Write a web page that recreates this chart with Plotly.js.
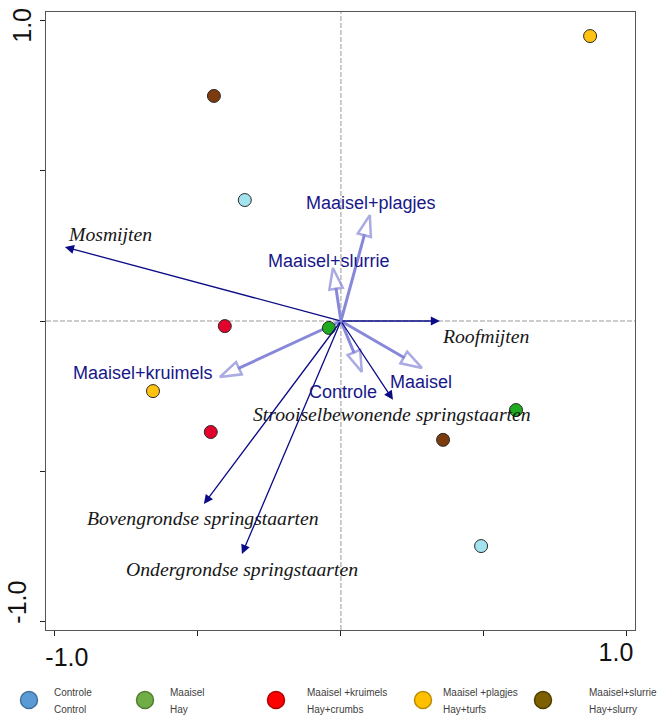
<!DOCTYPE html>
<html>
<head>
<meta charset="utf-8">
<script src="https://cdn.plot.ly/plotly-3.0.1.min.js"></script>
<style>html,body{margin:0;padding:0;background:#fff;}#chart{width:657px;height:718px;}</style>
</head>
<body>
<div id="chart"></div>
<script>
// ---------- DATA ----------
const groupNames   = ['Controle', 'Maaisel', 'Maaisel+kruimels', 'Maaisel+plagjes', 'Maaisel+slurrie'];
const controleX    = [-0.336, 0.490];
const controleY    = [0.402, -0.748];
const maaiselX     = [-0.042, 0.612];
const maaiselY     = [-0.023, -0.296];
const kruimelsX    = [-0.406, -0.455];
const kruimelsY    = [-0.017, -0.369];
const plagjesX     = [0.871, -0.657];
const plagjesY     = [0.947, -0.233];
const slurrieX     = [-0.444, 0.357];
const slurrieY     = [0.748, -0.395];

// species (response variables) arrows
const speciesNames = ['Mosmijten', 'Roofmijten', 'Strooiselbewonende springstaarten', 'Bovengrondse springstaarten', 'Ondergrondse springstaarten'];
const speciesX     = [-0.965, 0.346, 0.182, -0.479, -0.346];
const speciesY     = [0.246, 0.000, -0.262, -0.608, -0.774];

// treatment (explanatory) arrows
const treatNames   = ['Maaisel+plagjes', 'Maaisel+slurrie', 'Maaisel+kruimels', 'Controle', 'Maaisel'];
const treatX       = [0.101, -0.028, -0.423, 0.073, 0.283];
const treatY       = [0.352, 0.176, -0.186, -0.169, -0.156];

// axis ticks
const tickValues   = [-1, -0.5, 0, 0.5, 1];
const lowLabels    = ['-1.0', '', '', '', ''];
const highValue    = [1];
const highLabel    = ['1.0'];

// legend text
const legendDutch   = ['Controle', 'Maaisel', 'Maaisel +kruimels', 'Maaisel +plagjes', 'Maaisel+slurrie'];
const legendEnglish = ['Control', 'Hay', 'Hay+crumbs', 'Hay+turfs', 'Hay+slurry'];

// ---------- STYLES / PLACEMENT ----------
const pointColors  = ['#a3e3ef', '#1faa1f', '#e3022b', '#ffc20e', '#7b3b0d'];
const legendColors = ['#5b9bd5', '#70ad47', '#ff0000', '#ffc000', '#7f6000'];
const legendEdge   = ['#41719c', '#507e32', '#b00000', '#bc8c00', '#4f3c00'];
const legendMarkX  = [29, 145, 276, 423, 543];
const legendTextX  = [52, 168, 305, 441, 587];
// label placement relative to arrow tips (pixels)
const speciesLab   = [
  {xa: 'left',   dx: 1,  dy: 13},
  {xa: 'left',   dx: 0,  dy: -15},
  {xa: 'center', dx: -1, dy: -14},
  {xa: 'center', dx: -1, dy: -14},
  {xa: 'center', dx: 0,  dy: -15}
];
const treatLab     = [
  {xa: 'center', dx: 1,   dy: 12},
  {xa: 'center', dx: -4,  dy: 7},
  {xa: 'right',  dx: -5,  dy: 4},
  {xa: 'center', dx: -19, dy: -20},
  {xa: 'center', dx: -1,  dy: -14}
];

const NAVY = '#0b0b86';
const PURPLE = '#8888da';
const LABEL_NAVY = '#17178a';

const groupX = [controleX, maaiselX, kruimelsX, plagjesX, slurrieX];
const groupY = [controleY, maaiselY, kruimelsY, plagjesY, slurrieY];

const traces = [];

// treatment arrows (thick light purple, hollow heads)
treatNames.forEach((n, i) => {
  traces.push({
    type: 'scatter', mode: 'lines+markers',
    x: [0, treatX[i]], y: [0, treatY[i]],
    line: {color: PURPLE, width: 3},
    marker: {
      symbol: 'arrow', size: [0, 22], color: '#ffffff',
      angleref: 'previous',
      line: {color: PURPLE, width: [0, 2.5]}
    },
    showlegend: false, hoverinfo: 'skip', xaxis: 'x', yaxis: 'y'
  });
});

// sample points
groupNames.forEach((n, i) => {
  traces.push({
    type: 'scatter', mode: 'markers', name: n,
    x: groupX[i], y: groupY[i],
    marker: {size: 13, color: pointColors[i], line: {color: '#2a2a2a', width: 1}},
    showlegend: false, xaxis: 'x', yaxis: 'y'
  });
});

// legend markers (drawn on a helper axis below the plot)
traces.push({
  type: 'scatter', mode: 'markers',
  x: legendMarkX, y: groupNames.map(() => 700),
  marker: {size: 17, color: legendColors, line: {color: legendEdge, width: 1.5}},
  showlegend: false, hoverinfo: 'skip', xaxis: 'x2', yaxis: 'y2'
});

// empty trace so the overlay label axes get drawn
traces.push({
  type: 'scatter', mode: 'markers', x: [null], y: [null],
  showlegend: false, hoverinfo: 'skip', xaxis: 'x3', yaxis: 'y3'
});

const annotations = [];

// species arrows
speciesNames.forEach((n, i) => {
  annotations.push({
    x: speciesX[i], y: speciesY[i], ax: 0, ay: 0,
    xref: 'x', yref: 'y', axref: 'x', ayref: 'y',
    text: '', showarrow: true,
    arrowhead: 2, arrowsize: 1.4, arrowwidth: 1.3, arrowcolor: NAVY,
    standoff: 0, startstandoff: 0
  });
  annotations.push({
    x: speciesX[i], y: speciesY[i], xref: 'x', yref: 'y',
    text: n, showarrow: false,
    xanchor: speciesLab[i].xa, yanchor: 'middle',
    xshift: speciesLab[i].dx, yshift: speciesLab[i].dy,
    font: {family: 'Liberation Serif, Times New Roman, serif', style: 'italic', size: 19.7, color: '#161616'}
  });
});

// treatment labels
treatNames.forEach((n, i) => {
  annotations.push({
    x: treatX[i], y: treatY[i], xref: 'x', yref: 'y',
    text: n, showarrow: false,
    xanchor: treatLab[i].xa, yanchor: 'middle',
    xshift: treatLab[i].dx, yshift: treatLab[i].dy,
    font: {family: 'Liberation Sans, Arial, sans-serif', size: 18, color: LABEL_NAVY}
  });
});

// legend text
groupNames.forEach((n, i) => {
  annotations.push({
    x: legendTextX[i], y: 692, xref: 'x2', yref: 'y2', text: legendDutch[i],
    showarrow: false, xanchor: 'left', yanchor: 'middle',
    font: {family: 'Liberation Sans, Arial, sans-serif', size: 10, color: '#404040'}
  });
  annotations.push({
    x: legendTextX[i], y: 709, xref: 'x2', yref: 'y2', text: legendEnglish[i],
    showarrow: false, xanchor: 'left', yanchor: 'middle',
    font: {family: 'Liberation Sans, Arial, sans-serif', size: 10, color: '#404040'}
  });
});

const axisFont = {family: 'Liberation Sans, Arial, sans-serif', size: 25, color: '#111'};
const XRANGE = [-1.031, 1.028];
const YRANGE = [-1.027, 1.027];

const layout = {
  width: 657, height: 718,
  margin: {l: 0, r: 0, t: 0, b: 0, pad: 0},
  paper_bgcolor: '#ffffff', plot_bgcolor: '#ffffff',
  showlegend: false,
  xaxis: {
    domain: [46 / 657, 635 / 657], range: XRANGE,
    showgrid: false, zeroline: false,
    showline: true, mirror: true, linecolor: '#555', linewidth: 1,
    ticks: 'outside', ticklen: 5, tickcolor: '#222',
    tickvals: tickValues, ticktext: lowLabels, tickfont: axisFont,
    ticklabelshift: 12, ticklabeloverflow: 'allow',
    anchor: 'y', fixedrange: true
  },
  yaxis: {
    domain: [88 / 718, 706 / 718], range: YRANGE,
    showgrid: false, zeroline: false,
    showline: true, mirror: true, linecolor: '#555', linewidth: 1,
    ticks: 'outside', ticklen: 5, tickcolor: '#222',
    tickvals: tickValues, ticktext: lowLabels, tickfont: axisFont,
    ticklabelshift: -16, ticklabelstandoff: 4, ticklabeloverflow: 'allow',
    tickangle: -90, anchor: 'x', fixedrange: true
  },
  xaxis3: {
    overlaying: 'x', range: XRANGE, anchor: 'y', side: 'bottom',
    showgrid: false, zeroline: false, showline: false, ticks: '', ticklen: 5,
    tickvals: highValue, ticktext: highLabel, tickfont: axisFont,
    ticklabelshift: -11, ticklabelstandoff: 5, ticklabeloverflow: 'allow', fixedrange: true
  },
  yaxis3: {
    overlaying: 'y', range: YRANGE, anchor: 'x', side: 'left',
    showgrid: false, zeroline: false, showline: false, ticks: '', ticklen: 5,
    tickvals: highValue, ticktext: highLabel, tickfont: axisFont,
    tickangle: -90, ticklabelshift: 9, ticklabelstandoff: 9, ticklabeloverflow: 'allow', fixedrange: true
  },
  xaxis2: {domain: [0, 1], range: [0, 657], visible: false, anchor: 'y2', fixedrange: true},
  yaxis2: {domain: [0, 88 / 718], range: [718, 630], visible: false, anchor: 'x2', fixedrange: true},
  shapes: [
    {type: 'line', xref: 'x', yref: 'y domain', x0: 0, x1: 0, y0: 0, y1: 1,
     line: {color: '#9a9a9a', width: 1, dash: '5px,2px'}, layer: 'below'},
    {type: 'line', xref: 'x domain', yref: 'y', x0: 0, x1: 1, y0: 0, y1: 0,
     line: {color: '#9a9a9a', width: 1, dash: '5px,2px'}, layer: 'below'}
  ],
  annotations: annotations
};

Plotly.newPlot('chart', traces, layout, {displayModeBar: false, staticPlot: true});
</script>
</body>
</html>
